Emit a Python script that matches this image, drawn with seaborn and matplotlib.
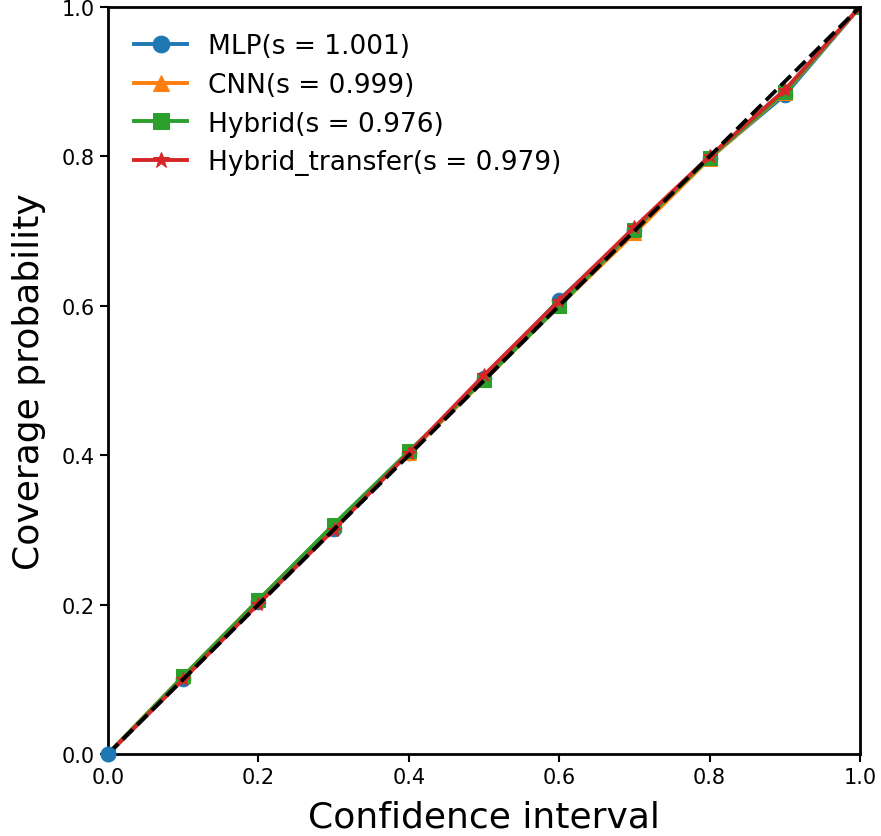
import matplotlib
matplotlib.use("Agg")
import matplotlib.pyplot as plt
import seaborn as sns
import numpy as np

conf = [0.0, 0.1, 0.2, 0.3, 0.4, 0.5, 0.6, 0.7, 0.8, 0.9, 1.0]
mlp = [0.0, 0.101, 0.203, 0.301, 0.403, 0.503, 0.608, 0.702, 0.798, 0.882, 1.0]
cnn = [0.0, 0.104, 0.206, 0.306, 0.403, 0.500, 0.600, 0.697, 0.797, 0.885, 1.0]
hybrid = [0.0, 0.104, 0.206, 0.307, 0.405, 0.501, 0.600, 0.702, 0.798, 0.886, 1.0]
hybrid_transfer = [0.0, 0.100, 0.201, 0.300, 0.403, 0.507, 0.607, 0.705, 0.800, 0.889, 1.0]
labels = ["MLP(s = 1.001)", "CNN(s = 0.999)", "Hybrid(s = 0.976)", "Hybrid_transfer(s = 0.979)"]
colors = ["#1f77b4", "#ff7f0e", "#2ca02c", "#d62728"]
markers = ["o", "^", "s", "*"]

fig = plt.figure(figsize=(8.81, 8.37), dpi=100)
ax = fig.add_axes([0.1226, 0.098, 0.8535, 0.8925])

series = [mlp, cnn, hybrid, hybrid_transfer]
for i, (vals, lab, c, m) in enumerate(zip(series, labels, colors, markers)):
    sns.lineplot(x=conf, y=vals, ax=ax, color=c, marker=m, markersize=10.5,
                 markeredgecolor=c, linewidth=2.8, label=lab)

# MLP origin marker drawn unclipped
ax.plot(conf[0], mlp[0], marker=markers[0], color=colors[0], markersize=10.5,
        clip_on=False, zorder=5)

sns.lineplot(x=[0, 1], y=[0, 1], ax=ax, color="black", linestyle="--",
             linewidth=2.8)

ax.set_xlim(0, 1)
ax.set_ylim(0, 1)
ax.set_xticks(np.arange(0, 1.01, 0.2))
ax.set_yticks(np.arange(0, 1.01, 0.2))
ax.tick_params(labelsize=15, width=1.5, length=6)
for s in ax.spines.values():
    s.set_linewidth(2)
ax.set_xlabel("Confidence interval", fontsize=26, labelpad=9)
ax.set_ylabel("Coverage probability", fontsize=26, labelpad=11)
ax.legend(loc="upper left", frameon=False, fontsize=19, handlelength=2.0,
          borderaxespad=0.6, labelspacing=0.48, markerscale=1.15)

fig.savefig("out.png", dpi=100)
